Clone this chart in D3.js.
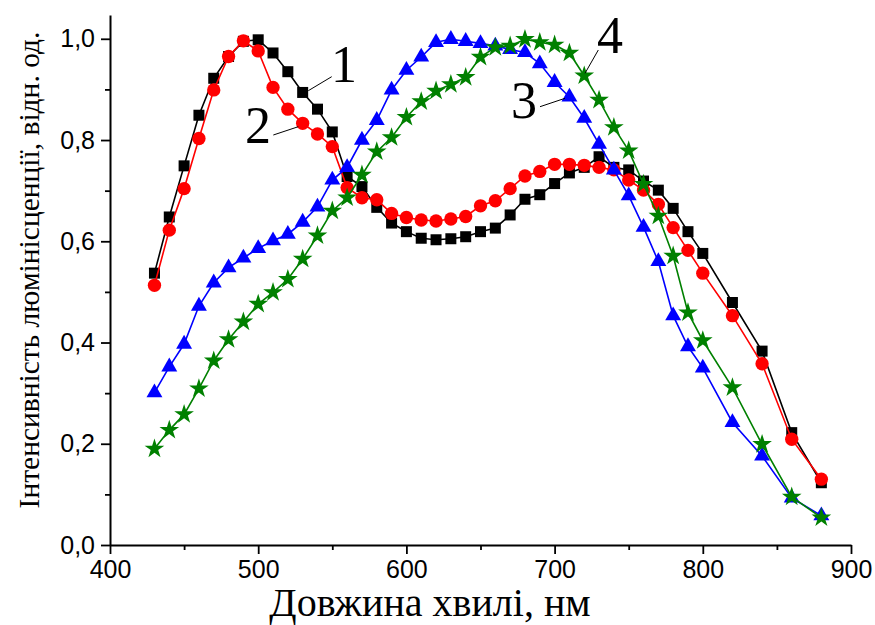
<!DOCTYPE html>
<html><head><meta charset="utf-8">
<script src="https://cdn.jsdelivr.net/npm/d3@7/dist/d3.min.js"></script>
<style>body{margin:0;background:#fff}svg{display:block}</style>
</head><body><svg id="c" width="875" height="625"></svg>
<script>
const wavelengths = [430,440,450,460,470,480,490,500,510,520,530,540,550,560,570,580,590,600,610,620,630,640,650,660,670,680,690,700,710,720,730,740,750,760,770,780,790,800,820,840,860,880];
const series1 = [0.537,0.648,0.749,0.849,0.922,0.965,0.995,0.998,0.972,0.935,0.894,0.861,0.816,0.728,0.708,0.667,0.636,0.619,0.606,0.603,0.605,0.609,0.619,0.626,0.652,0.683,0.692,0.714,0.735,0.746,0.767,0.746,0.741,0.719,0.701,0.665,0.619,0.576,0.479,0.383,0.222,0.123];
const series2 = [0.513,0.622,0.704,0.803,0.899,0.965,0.996,0.976,0.904,0.861,0.833,0.812,0.787,0.706,0.686,0.682,0.655,0.647,0.642,0.640,0.644,0.649,0.670,0.680,0.704,0.729,0.738,0.752,0.752,0.750,0.746,0.741,0.721,0.701,0.673,0.627,0.582,0.537,0.453,0.358,0.209,0.130];
const series3 = [0.301,0.352,0.397,0.472,0.518,0.548,0.567,0.586,0.601,0.614,0.638,0.668,0.721,0.746,0.800,0.839,0.899,0.938,0.964,0.993,0.999,0.995,0.991,0.986,0.979,0.973,0.951,0.914,0.885,0.843,0.792,0.741,0.690,0.628,0.560,0.453,0.392,0.350,0.242,0.176,0.093,0.058];
const series4 = [0.190,0.227,0.258,0.309,0.364,0.406,0.441,0.476,0.499,0.525,0.565,0.611,0.660,0.686,0.731,0.777,0.805,0.845,0.876,0.897,0.910,0.924,0.964,0.983,0.986,0.999,0.993,0.988,0.972,0.927,0.879,0.825,0.779,0.713,0.650,0.571,0.459,0.404,0.311,0.199,0.095,0.054];
const xTicks = [400,500,600,700,800,900];
const xMinorTicks = [450,550,650,750,850];
const yTicks = [0,0.2,0.4,0.6,0.8,1.0];
const yMinorTicks = [0.1,0.3,0.5,0.7,0.9];
const seriesNames = ["1","2","3","4"];
const seriesColors = ["#000000","#ff0000","#0000ff","#008000"];
const xTitle = "Довжина хвилі, нм";
const yTitle = "Інтенсивність люмінісценції, відн. од.";

const svg = d3.select("#c");
const x = d3.scaleLinear().domain([400,900]).range([110,851]);
const y = d3.scaleLinear().domain([0,1.047]).range([545,15]);
const fmt = d => d3.format(".1f")(d).replace(".", ",");

// X axis
const gx = svg.append("g").attr("transform", `translate(0,${y(0)})`);
gx.call(d3.axisBottom(x).tickValues(xTicks).tickSize(9).tickPadding(6).tickSizeOuter(0).tickFormat(d3.format("d")));
gx.append("g").call(d3.axisBottom(x).tickValues(xMinorTicks).tickSize(5).tickFormat("").tickSizeOuter(0)).select(".domain").remove();
// Y axis
const gy = svg.append("g").attr("transform", `translate(${x(400)},0)`);
gy.call(d3.axisLeft(y).tickValues(yTicks).tickSize(9).tickPadding(6).tickSizeOuter(0).tickFormat(fmt));
gy.append("g").call(d3.axisLeft(y).tickValues(yMinorTicks).tickSize(5).tickFormat("").tickSizeOuter(0)).select(".domain").remove();
svg.selectAll(".domain").attr("stroke","#000").attr("stroke-width",2);
svg.selectAll(".tick line").attr("stroke","#000").attr("stroke-width",1.8);
svg.selectAll(".tick text").attr("font-family","'Liberation Sans', Arial, sans-serif").attr("font-size",25).attr("fill","#000");

// Titles
svg.append("text").attr("x", 430).attr("y", 616).attr("text-anchor","middle")
  .attr("font-family","'Liberation Serif','Times New Roman',serif").attr("font-size",40).text(xTitle);
svg.append("text").attr("transform","translate(39,270) rotate(-90)").attr("text-anchor","middle")
  .attr("font-family","'Liberation Serif','Times New Roman',serif").attr("font-size",29.5).text(yTitle);

// Series
const allSeries = [series1, series2, series3, series4];
const symbols = [d3.symbolSquare, d3.symbolCircle, d3.symbolTriangle, d3.symbolStar];
const sizes = [121, 140, 110, 120];
const line = d3.line().x(d => x(d[0])).y(d => y(d[1]));
allSeries.forEach((vals, i) => {
  const pts = wavelengths.map((w, j) => [w, vals[j]]);
  const g = svg.append("g");
  g.append("path").attr("d", line(pts)).attr("fill","none").attr("stroke", seriesColors[i]).attr("stroke-width",1.6);
  g.selectAll("path.m").data(pts).join("path").attr("class","m")
    .attr("transform", d => `translate(${x(d[0])},${y(d[1])})`)
    .attr("d", d3.symbol().type(symbols[i]).size(sizes[i]))
    .attr("fill", seriesColors[i]);
});

// Curve labels with leader lines (annotation placement in pixels)
const labelPos = [[344,82],[258,143],[524,118],[610,53]];
const leaderFrom = [[331.7,76.7],[273.3,135],[540,106.7],[598.3,50]];
const leaderTo = [[308.3,90.7],[298.3,126.7],[565,98.3],[585,73.3]];
seriesNames.forEach((n, i) => {
  svg.append("line").attr("x1", leaderFrom[i][0]).attr("y1", leaderFrom[i][1])
    .attr("x2", leaderTo[i][0]).attr("y2", leaderTo[i][1]).attr("stroke","#000").attr("stroke-width",1);
  svg.append("text").attr("x", labelPos[i][0]).attr("y", labelPos[i][1]).attr("text-anchor","middle")
    .attr("font-family","'Liberation Serif','Times New Roman',serif").attr("font-size",52).text(n);
});
</script></body></html>
